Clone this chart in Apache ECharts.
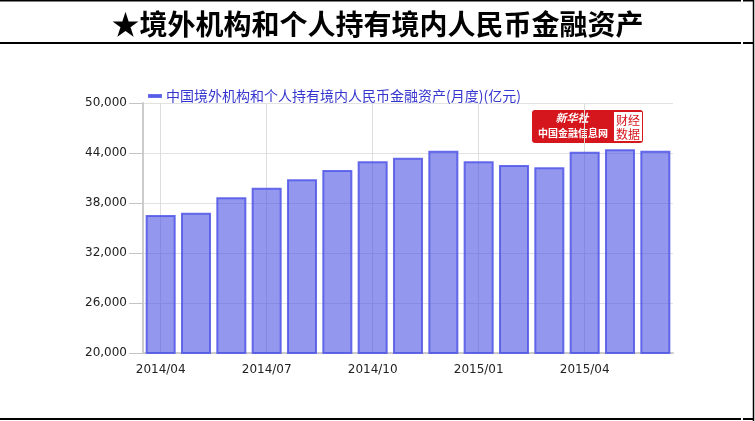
<!DOCTYPE html>
<html>
<head>
<meta charset="utf-8">
<script src="https://cdn.jsdelivr.net/npm/echarts@6/dist/echarts.min.js"></script>
<style>
  html, body { margin: 0; padding: 0; background: #fff; }
  #chart { width: 755px; height: 421px; }
</style>
</head>
<body>
<div id="chart"></div>
<script>
// 月份
var months = ['2014/04', '2014/05', '2014/06', '2014/07', '2014/08', '2014/09', '2014/10',
  '2014/11', '2014/12', '2015/01', '2015/02', '2015/03', '2015/04', '2015/05', '2015/06'];
// 境外机构和个人持有境内人民币金融资产(亿元)
var assets = [36560, 36840, 38680, 39840, 40840, 41960, 43000,
  43440, 44280, 43000, 42560, 42280, 44160, 44440, 44280];
var seriesName = '中国境外机构和个人持有境内人民币金融资产(月度)(亿元)';
var chartTitle = '★境外机构和个人持有境内人民币金融资产';

var myChart = echarts.init(document.getElementById('chart'));

var frameColor = '#000';
myChart.setOption({
  animation: false,
  title: {
    text: chartTitle,
    left: 'center',
    top: 5,
    textStyle: {
      fontFamily: 'Noto Sans CJK SC',
      fontSize: 28,
      fontWeight: 'bold',
      color: '#000'
    }
  },
  legend: {
    left: 143,
    top: 84,
    itemWidth: 12,
    itemHeight: 2,
    itemGap: 4,
    icon: 'rect',
    data: [{ name: seriesName, itemStyle: { color: '#7a7fe8' } }],
    textStyle: {
      fontFamily: 'Noto Sans CJK SC',
      fontSize: 14,
      color: '#3535cf',
      padding: [0, 0, 0, 0]
    }
  },
  grid: {
    left: 143,
    top: 103,
    right: 82,
    bottom: 68,
    containLabel: false
  },
  xAxis: {
    type: 'category',
    data: months,
    axisLine: { lineStyle: { color: '#cccccc', width: 2 } },
    axisTick: { alignWithLabel: true, interval: 2, length: 6, lineStyle: { color: '#c4c4c4' } },
    axisLabel: {
      interval: 2,
      margin: 11,
      fontFamily: 'DejaVu Sans',
      fontSize: 12,
      color: '#222'
    },
    splitLine: {
      show: true,
      interval: 2,
      alignWithLabel: true,
      lineStyle: { color: '#dddddd' }
    }
  },
  yAxis: {
    type: 'value',
    min: 20000,
    max: 50000,
    interval: 6000,
    axisLine: { show: true, lineStyle: { color: '#cccccc', width: 2 } },
    axisTick: { show: true, length: 14, lineStyle: { color: '#c4c4c4' } },
    axisLabel: {
      margin: 16,
      fontFamily: 'DejaVu Sans',
      fontSize: 12,
      color: '#222',
      formatter: function (v) { return v.toLocaleString('en-US'); }
    },
    splitLine: { lineStyle: { color: '#e2e2e2' } }
  },
  series: [{
    name: seriesName,
    type: 'bar',
    data: assets,
    barCategoryGap: '15%',
    itemStyle: {
      color: 'rgba(75,83,227,0.6)',
      borderColor: 'rgba(80,86,232,0.85)',
      borderWidth: 2
    }
  }],
  graphic: [
    // 外框线
    { type: 'line', shape: { x1: 0, y1: 0.5, x2: 741, y2: 0.5 }, style: { stroke: frameColor, lineWidth: 2 } },
    { type: 'line', shape: { x1: 743, y1: 0.5, x2: 754, y2: 0.5 }, style: { stroke: frameColor, lineWidth: 2 } },
    { type: 'line', shape: { x1: 0, y1: 43, x2: 741, y2: 43 }, style: { stroke: frameColor, lineWidth: 2 } },
    { type: 'line', shape: { x1: 743, y1: 43, x2: 754, y2: 43 }, style: { stroke: frameColor, lineWidth: 2 } },
    { type: 'line', shape: { x1: 0, y1: 419, x2: 741, y2: 419 }, style: { stroke: frameColor, lineWidth: 2 } },
    { type: 'line', shape: { x1: 743, y1: 419, x2: 754, y2: 419 }, style: { stroke: frameColor, lineWidth: 2 } },
    { type: 'line', shape: { x1: 753.5, y1: 0, x2: 753.5, y2: 421 }, style: { stroke: frameColor, lineWidth: 1.5 } },
    // 水印 logo
    {
      type: 'group',
      left: 532,
      top: 110,
      z: 100,
      children: [
        { type: 'rect', shape: { x: 0, y: 0, width: 111, height: 33, r: 3 }, style: { fill: '#d5161c' } },
        { type: 'rect', shape: { x: 82, y: 2, width: 28, height: 29 }, style: { fill: '#fff' } },
        { type: 'text', x: 40, y: 8, style: { text: '新华社', fill: '#fff', font: 'italic bold 11px "Noto Sans CJK SC"', align: 'center', verticalAlign: 'middle' } },
        { type: 'text', x: 41, y: 23, style: { text: '中国金融信息网', fill: '#fff', font: 'bold 10px "Noto Sans CJK SC"', align: 'center', verticalAlign: 'middle' } },
        { type: 'text', x: 96, y: 10, style: { text: '财经', fill: '#d5161c', font: '12px "Noto Sans CJK SC"', align: 'center', verticalAlign: 'middle' } },
        { type: 'text', x: 96, y: 24, style: { text: '数据', fill: '#d5161c', font: '12px "Noto Sans CJK SC"', align: 'center', verticalAlign: 'middle' } }
      ]
    }
  ]
});
</script>
</body>
</html>
